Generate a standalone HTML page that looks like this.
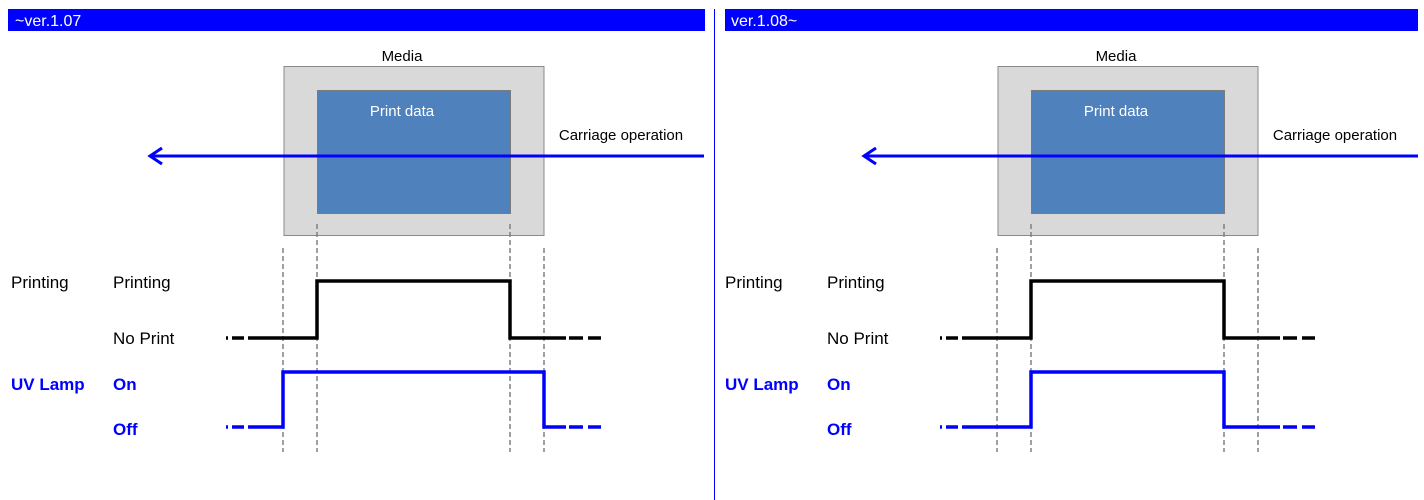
<!DOCTYPE html>
<html><head><meta charset="utf-8"><style>
html,body{margin:0;padding:0;background:#fff;width:1424px;height:500px;overflow:hidden}
svg{display:block;font-family:"Liberation Sans",Arial,sans-serif}
</style></head><body>
<svg width="1424" height="500" viewBox="0 0 1424 500">
<defs>
<g id="p">
  <rect x="284" y="66.5" width="260" height="169" fill="#d9d9d9" stroke="#8a8a8a" stroke-width="1"/>
  <rect x="317.5" y="90.5" width="193" height="123" fill="#4f81bd" stroke="#7a7a7a" stroke-width="1"/>
  <text x="402" y="116" font-size="15" fill="#fff" text-anchor="middle">Print data</text>
  <text x="402" y="61" font-size="15" fill="#000" text-anchor="middle">Media</text>
  <text x="621" y="140" font-size="15" fill="#000" text-anchor="middle">Carriage operation</text>
  <line x1="150" y1="156" x2="704" y2="156" stroke="#0000ff" stroke-width="3"/>
  <polyline points="162,148 150,156 162,164" fill="none" stroke="#0000ff" stroke-width="3"/>
  <g stroke="#808080" stroke-width="1.5" stroke-dasharray="5,3">
    <line x1="283" y1="248" x2="283" y2="452"/>
    <line x1="317" y1="224" x2="317" y2="452"/>
    <line x1="510" y1="224" x2="510" y2="452"/>
    <line x1="544" y1="248" x2="544" y2="452"/>
  </g>
  <text x="11" y="288" font-size="17">Printing</text>
  <text x="113" y="288" font-size="17">Printing</text>
  <text x="113" y="344" font-size="17">No Print</text>
  <text x="11" y="390" font-size="17" font-weight="bold" fill="#0000ff">UV Lamp</text>
  <text x="113" y="390" font-size="17" font-weight="bold" fill="#0000ff">On</text>
  <text x="113" y="435" font-size="17" font-weight="bold" fill="#0000ff">Off</text>
  <g stroke="#000" stroke-width="3.5" fill="none">
    <line x1="226" y1="338" x2="228" y2="338"/>
    <line x1="232" y1="338" x2="244" y2="338"/>
    <polyline points="248,338 317,338 317,281 510,281 510,338 566,338"/>
    <line x1="569" y1="338" x2="583" y2="338"/>
    <line x1="588" y1="338" x2="601" y2="338"/>
  </g>
</g>
</defs>
<rect x="8" y="9" width="697" height="22" fill="#0000ff"/>
<text x="15" y="26" font-size="16" fill="#fff">~ver.1.07</text>
<rect x="725" y="9" width="693" height="22" fill="#0000ff"/>
<text x="731" y="26" font-size="16" fill="#fff">ver.1.08~</text>
<line x1="714.5" y1="9" x2="714.5" y2="500" stroke="#0000ff" stroke-width="1"/>
<use href="#p"/>
<use href="#p" transform="translate(714,0)"/>
<g stroke="#0000ff" stroke-width="3.5" fill="none">
  <line x1="226" y1="427" x2="228" y2="427"/>
  <line x1="232" y1="427" x2="244" y2="427"/>
  <polyline points="248,427 283,427 283,372 544,372 544,427 566,427"/>
  <line x1="569" y1="427" x2="583" y2="427"/>
  <line x1="588" y1="427" x2="601" y2="427"/>
  <line x1="940" y1="427" x2="942" y2="427"/>
  <line x1="946" y1="427" x2="958" y2="427"/>
  <polyline points="962,427 1031,427 1031,372 1224,372 1224,427 1280,427"/>
  <line x1="1283" y1="427" x2="1297" y2="427"/>
  <line x1="1302" y1="427" x2="1315" y2="427"/>
</g>
</svg>
</body></html>
